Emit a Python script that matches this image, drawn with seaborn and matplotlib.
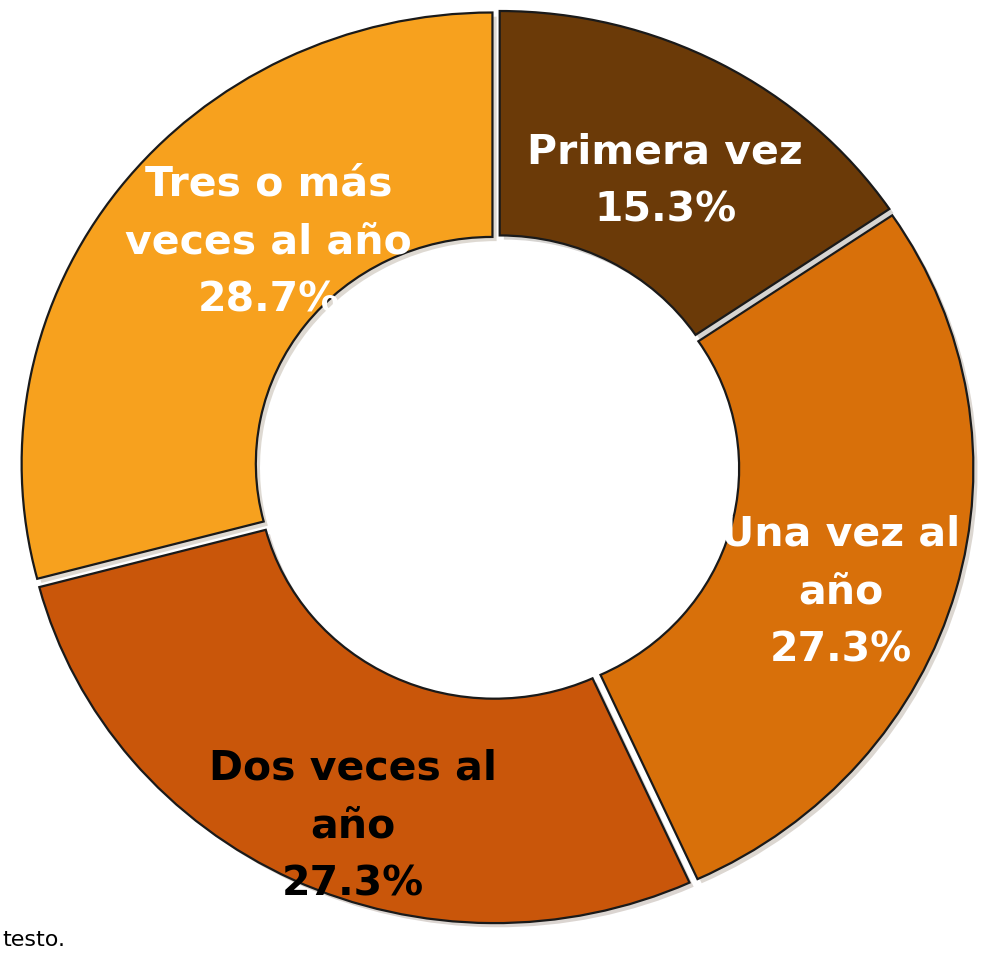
import numpy as np
import matplotlib
matplotlib.use("Agg")
import matplotlib.pyplot as plt
import matplotlib.patheffects as pe
import seaborn as sns

# data
categories = ["Primera vez", "Una vez al\naño", "Dos veces al\naño", "Tres o más\nveces al año"]
shares = [15.3, 27.3, 27.3, 28.7]
slice_colors = ["#6B3A08", "#D8700A", "#C9560A", "#F7A11E"]
text_colors = ["white", "white", "black", "white"]
# where each label sits (radius as fraction of outer radius, angle in degrees)
label_radius = [0.716, 0.770, 0.840, 0.685]
label_angle = [60.6, -20.8, -111.0, 134.2]

sns.set_theme(style="white")
plt.rcParams["font.family"] = ["DejaVu Sans"]

fig = plt.figure(figsize=(9.82, 9.66), dpi=100)
# the ring in the reference is a little wider than tall
RX, RY = 478, 458
CX, CY = 497, 467
ax = fig.add_axes([(CX - RX) / 982, (966 - CY - RY) / 966, 2 * RX / 982, 2 * RY / 966])

wedges, _ = ax.pie(
    shares,
    colors=sns.color_palette(slice_colors),
    startangle=90,
    counterclock=False,
    radius=0.985,
    explode=[0.012] * len(shares),
    wedgeprops=dict(width=0.49, edgecolor="#1a1a1a", linewidth=1.6),
)
for w in wedges:
    w.set_path_effects([pe.SimplePatchShadow(offset=(3, -3), alpha=0.18), pe.Normal()])

for cat, val, col, r, a in zip(categories, shares, text_colors, label_radius, label_angle):
    t = np.deg2rad(a)
    ax.text(r * np.cos(t), r * np.sin(t), f"{cat}\n{val:.1f}%",
            ha="center", va="center", color=col, fontsize=29.5,
            fontweight="bold", linespacing=1.58)

ax.set_xlim(-1, 1)
ax.set_ylim(-1, 1)
ax.set_aspect("auto")
ax.axis("off")

fig.text(0.002, 1 - 940 / 966, "testo.", fontsize=16, ha="left", va="center", color="black")

fig.savefig("out.png", dpi=100)
